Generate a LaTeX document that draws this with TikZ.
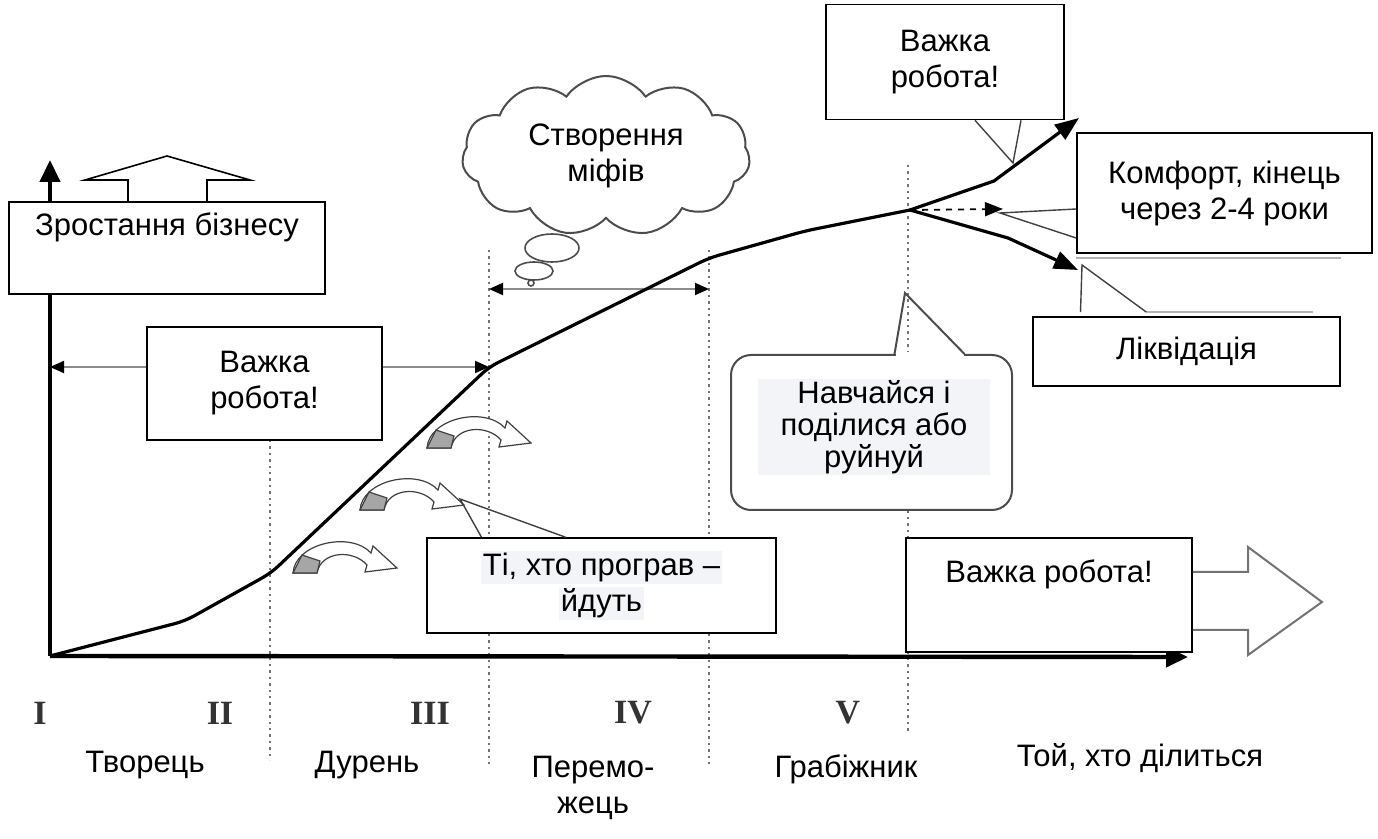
\documentclass[tikz,border=0pt]{standalone}
\usepackage{fontspec}
\setmainfont{Liberation Sans}
\newfontfamily\numfont{Liberation Serif}
\usepackage{tikz}
\usetikzlibrary{arrows.meta}
\usetikzlibrary{shapes.symbols}
\usetikzlibrary{shapes.geometric}
\definecolor{hl}{RGB}{243,244,247}
\tikzstyle{box}=[rectangle,draw=black,fill=white,line width=0.8pt,align=center,inner sep=0pt]
\tikzstyle{stage}=[font=\numfont\bfseries\fontsize{17}{17}\selectfont,text=black!80]
\tikzstyle{role}=[align=center,anchor=base]
\tikzstyle{axis}=[line width=2.2pt,-{Triangle[length=11pt,width=10pt]}]
\tikzstyle{growline}=[line width=1.6pt,rounded corners=5pt]
\tikzstyle{branch}=[line width=1.6pt,-{Triangle[length=12pt,width=9pt]}]
\tikzstyle{span}=[draw=black!45,line width=1pt,{Triangle[color=black,length=7pt,width=6pt]}-{Triangle[color=black,length=7pt,width=6pt]}]
\tikzstyle{period}=[black!55,line width=0.9pt,dash pattern=on 1.2pt off 2pt]
\tikzstyle{pointer}=[draw=black!75,line width=0.7pt]
\tikzstyle{ghost}=[draw=black!30,line width=1pt]
\tikzstyle{bubble}=[ellipse,draw=black!70,line width=0.8pt,fill=white,inner sep=0pt]
\tikzset{leave/.pic={
    \filldraw[draw=black!75,fill=white,line width=0.6pt] (0,0) .. controls (2,-30) and (58,-42) .. (78,-20) -- (80,-27) -- (104,-5) -- (72,-1) -- (74,-8) .. controls (60,-24) and (28,-22) .. (24,0) -- cycle;
    \filldraw[draw=black!75,fill=black!35,line width=0.6pt] (0,0) -- (9,-18) -- (27,-12) -- (24,0) -- cycle;
  }
}
\begin{document}
\begin{tikzpicture}[x=0.5pt,y=-0.5pt,font=\fontsize{15.5}{18}\selectfont]
    \useasboundingbox (0,0) rectangle (1378,839);
    % stage borders
    \draw[period] (270,440) -- (270,760);
    \draw[period] (489,250) -- (489,767);
    \draw[period] (709,250) -- (709,768);
    \draw[period] (908,165) -- (908,733);
    % growth curve points
    \coordinate (orig) at (50,656);
    \coordinate (ytop) at (50,160);
    \coordinate (xend) at (1188,657);
    \coordinate (k1) at (185,621);
    \coordinate (k2) at (271,573);
    \coordinate (k3) at (489,367);
    \coordinate (k4) at (709,258);
    \coordinate (k5) at (805,231);
    \coordinate (fork) at (910,210);
    \coordinate (upknee) at (994,181);
    \coordinate (uptip) at (1079,118);
    \coordinate (lowknee) at (1008,238);
    \coordinate (lowtip) at (1078,270);
    \coordinate (midtip) at (1003,209);
    \coordinate (yleft) at (50,367);
    \coordinate (mythL) at (489,289);
    \coordinate (mythR) at (709,289);
    \draw[span] (yleft) -- (k3);
    \draw[span] (mythL) -- (mythR);
    \pic at (293,573) {leave};
    \pic at (360,510) {leave};
    \pic at (427,448) {leave};
    \draw[growline] (orig) -- (k1) -- (k2) -- (k3) -- (k4) -- (k5) -- (fork);
    \draw[branch] (fork) -- (upknee) -- (uptip);
    \draw[branch] (fork) -- (lowknee) -- (lowtip);
    \draw[dashed,line width=0.9pt,-{Triangle[length=9pt,width=7pt]}] (fork) -- (midtip);
    \draw[axis] (orig) -- (ytop);
    \draw[axis] (orig) -- (xend);
    % thought cloud
    \node[bubble,minimum width=3pt,minimum height=3pt] (b3) at (531,283) {};
    \node[bubble,minimum width=19pt,minimum height=9pt] (b2) at (534,271) {};
    \node[bubble,minimum width=27pt,minimum height=14pt] (b1) at (552,248) {};
    \node[cloud,cloud puffs=11,cloud puff arc=110,aspect=1.8,draw=black!70,line width=1pt,fill=white,minimum width=144pt,minimum height=80pt,inner sep=0pt,align=center] (myth) at (606,156) {Створення\\міфів};
    % boxes
    \node[box,minimum width=158pt,minimum height=46pt] (growth) at (167,248) {Зростання бізнесу\\\strut};
    \draw[draw=black,line width=0.8pt] ([xshift=-19.5pt]growth.north) -- (128,180) -- (85,180) -- (167,156) -- (250,180) -- (207,180) -- ([xshift=20pt]growth.north);
    \node[box,minimum width=117.5pt,minimum height=56.5pt] (hardL) at (264.5,383.5) {Важка\\робота!};
    \node[box,minimum width=119pt,minimum height=57.5pt] (hardT) at (945,62) {Важка\\робота!};
    \node[box,minimum width=147.5pt,minimum height=60pt] (comfort) at (1224.5,193) {Комфорт, кінець\\через 2-4 роки};
    \node[box,minimum width=153.5pt,minimum height=34.5pt] (liquid) at (1186.5,351.5) {Ліквідація};
    \node[box,minimum width=174.5pt,minimum height=47.5pt] (lost) at (601.5,585.5) {\setlength{\fboxsep}{1pt}\colorbox{hl}{Ті, хто програв –}\\\setlength{\fboxsep}{1pt}\colorbox{hl}{йдуть}};
    \node[box,minimum width=143pt,minimum height=57pt] (hardR) at (1049,595) {Важка робота!\\\strut};
    \draw[draw=black!55,line width=1pt] ([yshift=11.5pt]hardR.east) -- (1248,572) -- (1248,547) -- (1322,602) -- (1248,655) -- (1248,630) -- ([yshift=-17.5pt]hardR.east);
    % callout
    \node[rectangle,rounded corners=10pt,draw=black!70,line width=1pt,fill=white,minimum width=140.5pt,minimum height=77.5pt] (learn) at (871.5,432.5) {};
    \coordinate (learntip) at (905,293);
    \fill[white] ([xshift=12pt,yshift=1pt]learn.north) rectangle ([xshift=46pt,yshift=-1pt]learn.north);
    \draw[draw=black!70,line width=1pt] ([xshift=11.5pt]learn.north) -- (learntip) -- ([xshift=46.5pt]learn.north);
    \node[fill=hl,inner sep=0pt,minimum width=116pt,minimum height=48pt,align=center,font=\fontsize{15.5}{16}\selectfont] (learntext) at (874,427) {Навчайся і\\поділися або\\руйнуй};
    % pointers
    \coordinate (tiptop) at (1013,163);
    \coordinate (tipmid) at (1000,213);
    \coordinate (tiplow) at (1082,265);
    \coordinate (tiplost) at (460,499);
    \draw[pointer] ([xshift=15pt]hardT.south) -- (tiptop) -- ([xshift=38pt]hardT.south);
    \draw[pointer] ([yshift=-8pt]comfort.west) -- (tipmid) -- ([yshift=-22.5pt]comfort.west);
    \draw[ghost] ([yshift=-2pt]comfort.south west) -- ([xshift=-16pt,yshift=-2pt]comfort.south east);
    \draw[pointer] ([xshift=-53pt,yshift=2pt]liquid.north) -- (tiplow) -- ([xshift=-20pt,yshift=2pt]liquid.north);
    \draw[ghost] ([xshift=-20pt,yshift=2pt]liquid.north) -- ([xshift=63pt,yshift=2pt]liquid.north);
    \draw[pointer] ([xshift=-60pt]lost.north) -- (tiplost) -- ([xshift=-18pt]lost.north);
    % stages
    \node[stage] (s1) at (40,713) {I};
    \node[stage] (s2) at (220,713) {II};
    \node[stage] (s3) at (430,713) {III};
    \node[stage] (s4) at (633,713) {IV};
    \node[stage] (s5) at (848,713) {V};
    \node[role] (r1) at (145,773) {Творець};
    \node[role] (r2) at (367,773) {Дурень};
    \node[role] (r3) at (593,813) {Перемо-\\жець};
    \node[role] (r4) at (846,777) {Грабіжник};
    \node[role] (r5) at (1140,767) {Той, хто ділиться};
\end{tikzpicture}
\end{document}
